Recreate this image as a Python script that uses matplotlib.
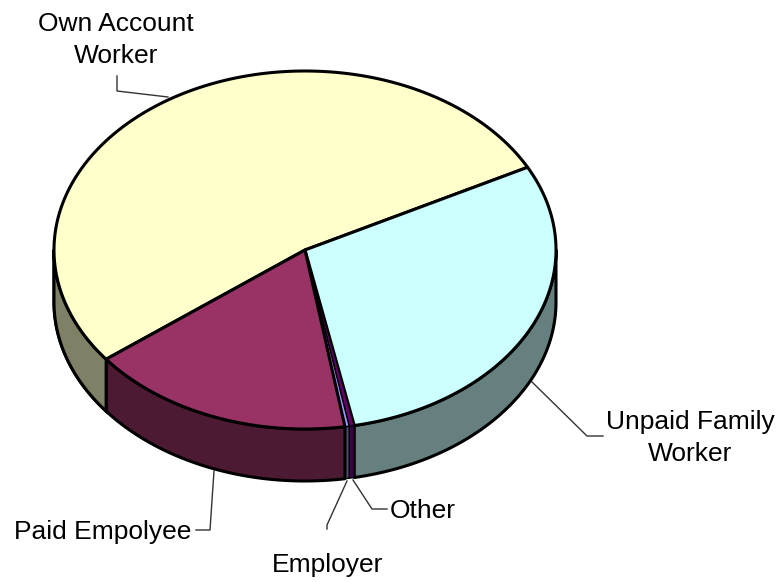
import numpy as np
import matplotlib
matplotlib.use("Agg")
import matplotlib.pyplot as plt
from matplotlib.patches import Polygon

labels = ["Own Account\nWorker", "Unpaid Family\nWorker", "Other", "Employer", "Paid Empolyee"]
values = [52.8, 29.5, 0.33, 0.27, 17.1]
colors = ["#FFFFCC", "#CCFFFF", "#660066", "#9999FF", "#993366"]
side_colors = ["#808066", "#668080", "#3D0048", "#4D4D70", "#4D1A33"]

# leader lines and label spots, in picture pixels
leaders = [
    [(117, 76), (117, 91), (168, 97)],
    [(531, 381), (587, 436), (603, 436)],
    [(353, 480), (372, 509), (387, 509)],
    [(347, 481), (327, 525), (327, 529)],
    [(214, 471), (210, 530), (196, 530)],
]
label_pos = [(116, 40), (690, 438), (390, 511), (328, 565), (14, 532)]
label_ha = ["center", "center", "left", "center", "left"]

cx, cy = 305, 250
rx, ry = 251, 179
depth = 52
start_angle = 217.6

plt.rcParams["font.family"] = ["Liberation Sans", "DejaVu Sans"]

fig = plt.figure(figsize=(7.82, 5.82), dpi=100)
ax = fig.add_axes([0, 0, 1, 1])
ax.set_xlim(0, 782)
ax.set_ylim(582, 0)
ax.axis("off")


def rim(a, b, dy=0):
    t = np.radians(np.linspace(a, b, max(int(abs(b - a) * 2), 2)))
    return np.column_stack([cx + rx * np.cos(t), cy - ry * np.sin(t) + dy])


fracs = np.array(values) / sum(values) * 360
ends = start_angle - np.cumsum(fracs)
starts = ends + fracs

# side wall: only the part of each slice on the front half
for a, b, col in zip(starts, ends, side_colors):
    lo = max(b, -180)
    hi = min(a, 0)
    if hi <= lo:
        # slice may sit at the angle range shifted by one turn
        lo2, hi2 = max(b, 180), min(a, 360)
        if hi2 <= lo2:
            continue
        lo, hi = lo2, hi2
    top = rim(hi, lo)
    bottom = rim(lo, hi, depth)
    lw = 2.2 if hi - lo > 3 else 1.0
    ax.add_patch(Polygon(np.vstack([top, bottom]), closed=True, fc=col, ec="black", lw=lw, joinstyle="round", zorder=2))

# the own account slice wraps past 180 degrees
ax.add_patch(Polygon(np.vstack([rim(starts[0], 180), rim(180, starts[0], depth)]), closed=True,
                     fc=side_colors[0], ec="black", lw=2.2, zorder=2))

for a, b, col in zip(starts, ends, colors):
    pts = np.vstack([[(cx, cy)], rim(a, b)])
    lw = 2.2 if a - b > 3 else 1.0
    ax.add_patch(Polygon(pts, closed=True, fc=col, ec="black", lw=lw, joinstyle="round", zorder=3))

for pts in leaders:
    xs, ys = zip(*pts)
    ax.plot(xs, ys, color="#333333", lw=1.0, zorder=1)

for lab, (x, y), ha in zip(labels, label_pos, label_ha):
    ax.text(x, y, lab, ha=ha, va="center", fontsize=19, color="black", linespacing=1.38, zorder=4)

fig.savefig("out.png", dpi=100)
